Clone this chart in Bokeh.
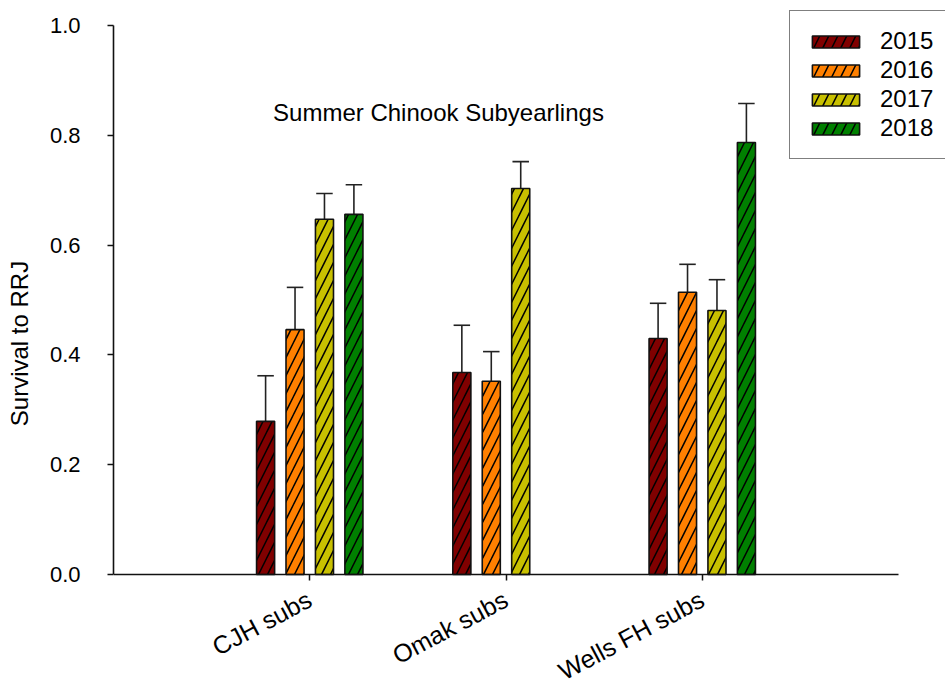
import math
from bokeh.plotting import figure
from bokeh.models import FixedTicker, Label, Range1d, ColumnDataSource, Legend, LegendItem
from bokeh.embed import file_html
from bokeh.resources import INLINE

categories = ["CJH subs", "Omak subs", "Wells FH subs"]
years = ["2015", "2016", "2017", "2018"]
colors = ["#800000", "#FF8000", "#C8C000", "#008000"]

survival_2015 = [0.279, 0.368, 0.430]
err_2015 = [0.083, 0.086, 0.064]
survival_2016 = [0.446, 0.352, 0.514]
err_2016 = [0.077, 0.054, 0.051]
survival_2017 = [0.647, 0.703, 0.481]
err_2017 = [0.047, 0.049, 0.056]
survival_2018 = [0.656, None, 0.787]
err_2018 = [0.054, None, 0.071]

y_ticks = [0.0, 0.2, 0.4, 0.6, 0.8, 1.0]
title_text = "Summer Chinook Subyearlings"
y_label = "Survival to RRJ"

series = [survival_2015, survival_2016, survival_2017, survival_2018]
errors = [err_2015, err_2016, err_2017, err_2018]

cat_pos = [1, 2, 3]
offsets = [-0.225, -0.075, 0.075, 0.225]
bar_w = 0.092
cap_half = 0.042
FONT = "Liberation Sans"

# layout geometry (pixels)
W, H = 945, 686
LEFT = 113          # y axis position
ZERO_Y = 574        # pixel row of y = 0
PX_PER_X = 196.25   # pixels per category unit
PX_PER_Y = 549.0    # pixels per survival unit
x_max = (W - LEFT) / PX_PER_X
y_max = ZERO_Y / PX_PER_Y
y_min = -(H - ZERO_Y) / PX_PER_Y

p = figure(width=W, height=H, output_backend="svg", toolbar_location=None,
           x_range=Range1d(0, x_max), y_range=Range1d(y_min, y_max),
           min_border_left=LEFT, min_border_right=0, min_border_top=0, min_border_bottom=0)
p.outline_line_color = None
p.xgrid.visible = False
p.ygrid.visible = False
p.background_fill_color = "white"
p.border_fill_color = "white"

legend_items = []
for yr, col, vals, errs, off in zip(years, colors, series, errors, offsets):
    xs, tops, ups = [], [], []
    for c, v, e in zip(cat_pos, vals, errs):
        if v is None:
            continue
        xs.append(c + off)
        tops.append(v)
        ups.append(v + e)
    src = ColumnDataSource(dict(x=xs, top=tops, up=ups,
                                cl=[x - cap_half for x in xs], cr=[x + cap_half for x in xs]))
    p.segment(x0="x", y0="top", x1="x", y1="up", source=src, line_color="#222222", line_width=1.6)
    p.segment(x0="cl", y0="up", x1="cr", y1="up", source=src, line_color="#222222", line_width=1.6)
    r = p.vbar(x="x", top="top", width=bar_w, bottom=0, source=src,
               fill_color=col, line_color="#111111", line_width=1.6,
               hatch_pattern="/", hatch_color="black", hatch_weight=1.5, hatch_scale=18)
    legend_items.append(LegendItem(label=yr, renderers=[r]))

legend = Legend(items=legend_items, location=(676, H - 159),
                border_line_color="black", border_line_width=1.5,
                background_fill_color="white", background_fill_alpha=1.0,
                label_text_font=FONT, label_text_font_size="24px", label_text_color="black",
                glyph_width=59, glyph_height=15, label_standoff=15,
                padding=16, spacing=1, label_height=22, margin=0)
p.add_layout(legend, "center")

# axes
p.yaxis.bounds = (0, 1.0)
p.yaxis.ticker = FixedTicker(ticks=y_ticks)
p.yaxis.major_label_overrides = {t: f"{t:.1f}" for t in y_ticks}
p.yaxis.minor_tick_line_color = None
p.yaxis.major_tick_in = 0
p.yaxis.major_tick_out = 6
p.yaxis.major_label_standoff = 27
p.yaxis.axis_label = y_label
p.yaxis.axis_label_standoff = 14
p.yaxis.axis_label_text_font_style = "normal"
p.yaxis.axis_label_text_font = FONT
p.yaxis.axis_label_text_font_size = "24px"
p.yaxis.axis_label_text_color = "black"

p.xaxis.bounds = (0, 4)
p.xaxis.fixed_location = 0
p.xaxis.ticker = FixedTicker(ticks=cat_pos)
p.xaxis.major_label_overrides = {c: name for c, name in zip(cat_pos, categories)}
p.xaxis.minor_tick_line_color = None
p.xaxis.major_tick_in = 0
p.xaxis.major_tick_out = 6
p.xaxis.major_label_orientation = math.radians(28)
p.xaxis.major_label_standoff = 17

for ax in (p.xaxis, p.yaxis):
    ax.axis_line_color = "#111111"
    ax.axis_line_width = 1.6
    ax.major_tick_line_color = "#111111"
    ax.major_tick_line_width = 1.5
    ax.major_label_text_font = FONT
    ax.major_label_text_font_size = "22px"
    ax.major_label_text_color = "black"
p.xaxis.major_label_text_font_size = "25px"

p.add_layout(Label(x=1.656, y=0.8415, text=title_text, text_align="center", text_baseline="middle",
                   text_font=FONT, text_font_size="24px", text_color="black"))

open("out.html", "w").write(file_html(p, INLINE))
